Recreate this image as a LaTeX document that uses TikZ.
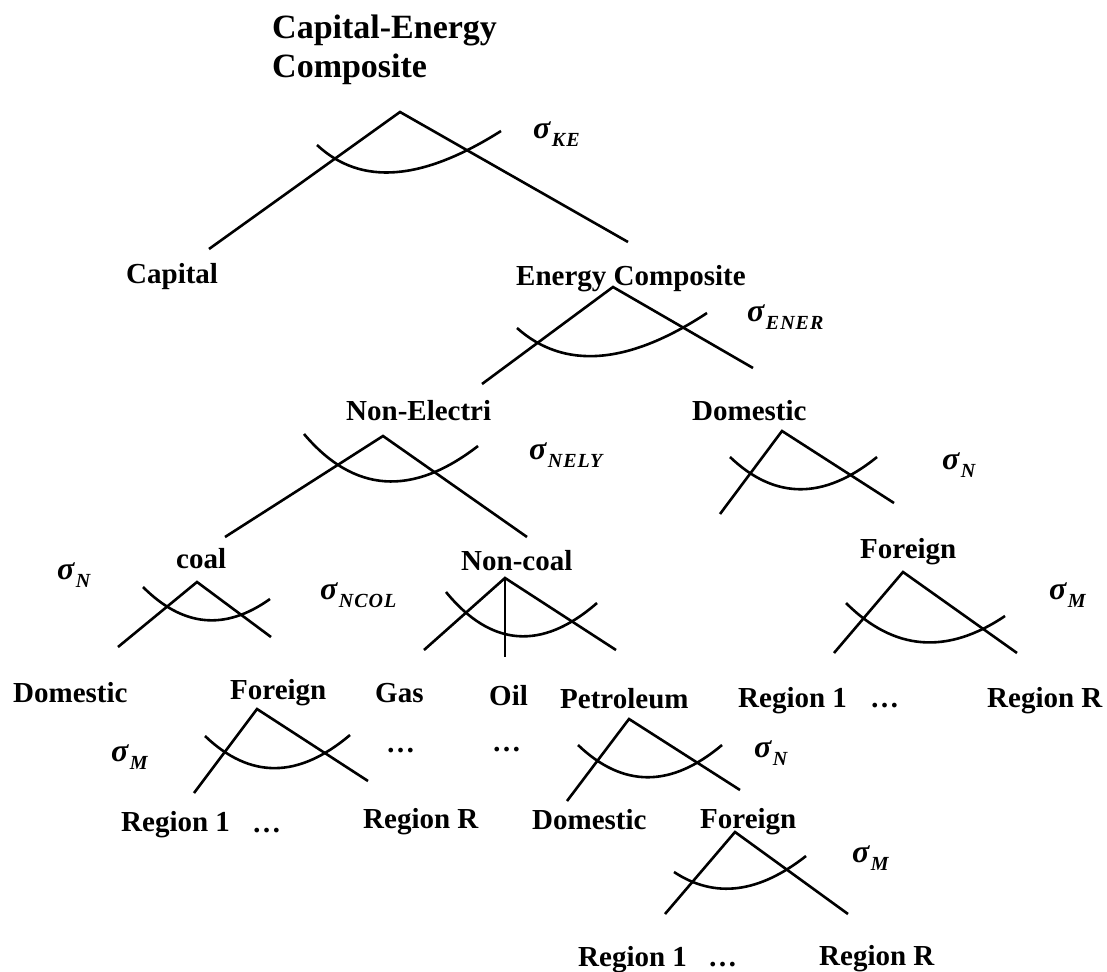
\documentclass[tikz,border=0pt]{standalone}
\usepackage{fontspec}
\setmainfont{Liberation Serif}
\newcommand{\elas}[1]{{\fontsize{32}{32}\selectfont\bfseries\itshape σ\kern1.5pt\raisebox{-8pt}{\fontsize{20}{20}\selectfont\addfontfeatures{LetterSpace=5}#1}}}
\begin{document}
\begin{tikzpicture}[x=1pt,y=-1pt,
    lbl/.style={font=\fontsize{29}{32}\selectfont\bfseries, inner sep=0pt, anchor=base west},
    ttl/.style={font=\fontsize{34}{39}\selectfont\bfseries, inner sep=0pt, anchor=base west, align=left},
    sig/.style={inner sep=0pt, anchor=base west},
    branch/.style={line width=2.6pt},
    nest/.style={line width=2.6pt}]
    \useasboundingbox (0,0) rectangle (1107,971);

    % Top level: capital vs energy
    \node[ttl] (top) at (272,78) {Capital-Energy\\Composite};
    \node[lbl] (capital) at (126,283) {Capital};
    \node[lbl] (energy) at (516,285) {Energy Composite};
    \coordinate (keTop) at (400,112);
    \coordinate (keL) at (209,249);
    \coordinate (keR) at (628,242);
    \draw[branch] (keL) -- (keTop) -- (keR);
    \draw[nest] (317,145) .. controls (361,186) and (422,181) .. (501,131);
    \node[sig] (sKE) at (533,139) {\elas{KE}};

    % Energy composite
    \node[lbl] (nonelec) at (346,420) {Non-Electri};
    \node[lbl] (domE) at (692,420) {Domestic};
    \coordinate (enTop) at (613,287);
    \coordinate (enL) at (482,384);
    \coordinate (enR) at (753,368);
    \draw[branch] (enL) -- (enTop) -- (enR);
    \draw[nest] (517,328) .. controls (564,370) and (628,365) .. (707,313);
    \node[sig] (sENER) at (747,321) {\elas{ENER}};

    % Non-electric
    \node[lbl] (coal) at (176,568) {coal};
    \node[lbl] (noncoal) at (461,570) {Non-coal};
    \coordinate (neTop) at (383,436);
    \coordinate (neL) at (225,537);
    \coordinate (neR) at (527,537);
    \draw[branch] (neL) -- (neTop) -- (neR);
    \draw[nest] (304,434) .. controls (354,493) and (412,497) .. (478,446);
    \node[sig] (sNELY) at (529,459) {\elas{NELY}};

    % Domestic (electricity side) and its foreign part
    \node[lbl] (forE) at (860,558) {Foreign};
    \coordinate (deTop) at (782,431);
    \coordinate (deL) at (720,514);
    \coordinate (deR) at (894,503);
    \draw[branch] (deL) -- (deTop) -- (deR);
    \draw[nest] (730,457) .. controls (775,500) and (824,500) .. (877,457);
    \node[sig] (sNE) at (942,469) {\elas{N}};

    \node[lbl] (regE1) at (738,707) {Region 1};
    \node[lbl] (dotsE) at (870,707) {\dots};
    \node[lbl] (regER) at (987,707) {Region R};
    \coordinate (feTop) at (903,572);
    \coordinate (feL) at (834,653);
    \coordinate (feR) at (1017,653);
    \draw[branch] (feL) -- (feTop) -- (feR);
    \draw[nest] (846,603) .. controls (894,651) and (947,655) .. (1005,616);
    \node[sig] (sME) at (1049,599) {\elas{M}};

    % Coal
    \node[lbl] (domC) at (13,702) {Domestic};
    \node[lbl] (forC) at (230,699) {Foreign};
    \coordinate (coTop) at (197,582);
    \coordinate (coL) at (118,647);
    \coordinate (coR) at (271,637);
    \draw[branch] (coL) -- (coTop) -- (coR);
    \draw[nest] (143,587) .. controls (183,627) and (225,631) .. (270,599);
    \node[sig] (sNC) at (57,579) {\elas{N}};
    \node[sig] (sNCOL) at (320,599) {\elas{NCOL}};

    \node[lbl] (regC1) at (121,831) {Region 1};
    \node[lbl] (dotsC) at (252,832) {\dots};
    \node[lbl] (regCR) at (363,828) {Region R};
    \coordinate (fcTop) at (257,709);
    \coordinate (fcL) at (194,793);
    \coordinate (fcR) at (368,781);
    \draw[branch] (fcL) -- (fcTop) -- (fcR);
    \draw[nest] (205,736) .. controls (250,779) and (298,779) .. (350,735);
    \node[sig] (sMC) at (111,761) {\elas{M}};

    % Non-coal
    \node[lbl] (gas) at (375,702) {Gas};
    \node[lbl] (oil) at (489,705) {Oil};
    \node[lbl] (petro) at (560,708) {Petroleum};
    \node[lbl] (dotsG) at (386,752) {\dots};
    \node[lbl] (dotsO) at (492,751) {\dots};
    \coordinate (ncTop) at (505,578);
    \coordinate (ncL) at (424,650);
    \coordinate (ncM) at (505,657);
    \coordinate (ncR) at (616,650);
    \draw[branch] (ncL) -- (ncTop) -- (ncR);
    \draw[branch] (ncTop) -- (ncM);
    \draw[nest] (446,592) .. controls (491,647) and (542,651) .. (597,603);

    % Petroleum
    \node[lbl] (domP) at (532,829) {Domestic};
    \node[lbl] (forP) at (700,828) {Foreign};
    \coordinate (ptTop) at (629,719);
    \coordinate (ptL) at (567,801);
    \coordinate (ptR) at (740,790);
    \draw[branch] (ptL) -- (ptTop) -- (ptR);
    \draw[nest] (578,745) .. controls (623,788) and (671,788) .. (722,745);
    \node[sig] (sNP) at (754,757) {\elas{N}};

    \node[lbl] (regP1) at (578,966) {Region 1};
    \node[lbl] (dotsP) at (708,966) {\dots};
    \node[lbl] (regPR) at (819,965) {Region R};
    \coordinate (fpTop) at (735,832);
    \coordinate (fpL) at (665,914);
    \coordinate (fpR) at (848,914);
    \draw[branch] (fpL) -- (fpTop) -- (fpR);
    \draw[nest] (674,872) .. controls (715,899) and (759,893) .. (806,856);
    \node[sig] (sMP) at (852,862) {\elas{M}};
\end{tikzpicture}
\end{document}
